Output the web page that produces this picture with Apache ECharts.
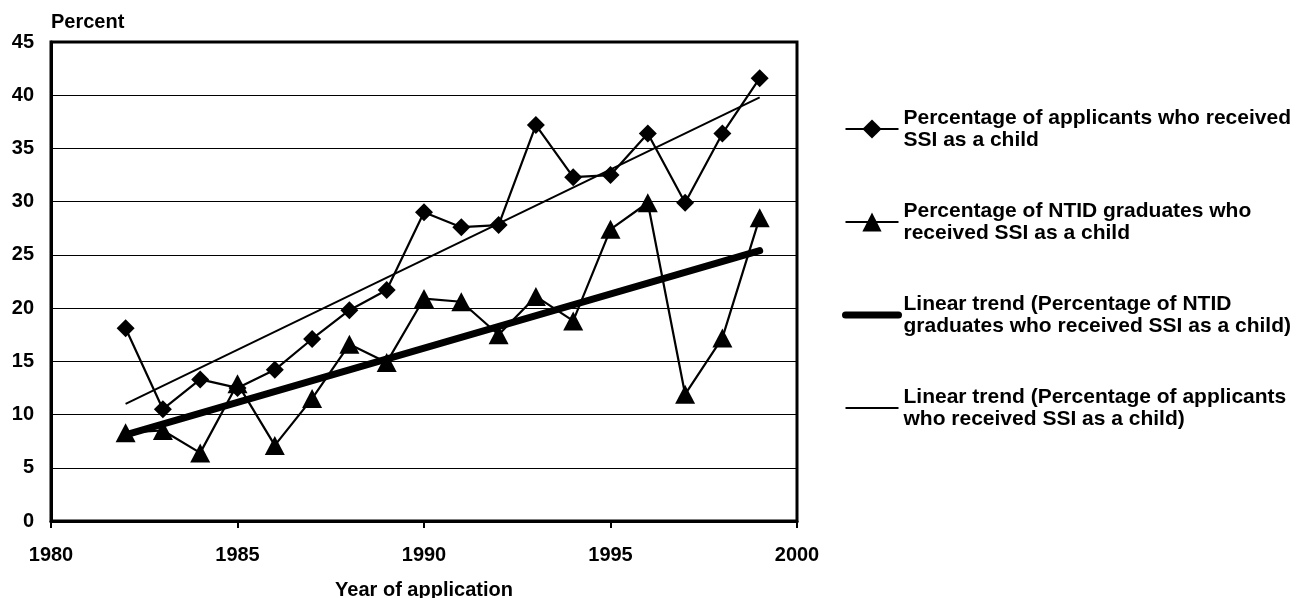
<!DOCTYPE html>
<html>
<head>
<meta charset="utf-8">
<script src="https://cdn.jsdelivr.net/npm/echarts@6/dist/echarts.min.js"></script>
<style>
    html, body { margin: 0; padding: 0; background: #fff; }
    #chart { width: 1301px; height: 598px; }
</style>
</head>
<body>
<div id="chart"></div>
<script>
// values
var years = [1982, 1983, 1984, 1985, 1986, 1987, 1988, 1989, 1990, 1991,
             1992, 1993, 1994, 1995, 1996, 1997, 1998, 1999];
var applicants = [18.1, 10.5, 13.3, 12.5, 14.2, 17.1, 19.8, 21.7, 29.0, 27.6,
                  27.8, 37.2, 32.3, 32.5, 36.4, 29.9, 36.4, 41.6];
var graduates = [8.3, 8.5, 6.4, 12.9, 7.1, 11.5, 16.6, 14.9, 20.9, 20.6,
                 17.5, 21.1, 18.8, 27.4, 29.9, 11.9, 17.2, 28.5];
// trend line end points (start year, end year)
var trendYears = [1982, 1999];
var applicantsTrend = [11.0, 39.8];
var graduatesTrend = [8.1, 25.4];

var yTicks = { min: 0, max: 45, step: 5 };
var xTicks = { min: 1980, max: 2000, step: 5 };

var names = [
    'Percentage of applicants who received SSI as a child',
    'Percentage of NTID graduates who received SSI as a child',
    'Linear trend (Percentage of NTID graduates who received SSI as a child)',
    'Linear trend (Percentage of applicants who received SSI as a child)'
];
var legendText = [
    'Percentage of applicants who received\nSSI as a child',
    'Percentage of NTID graduates who\nreceived SSI as a child',
    'Linear trend (Percentage of NTID\ngraduates who received SSI as a child)',
    'Linear trend (Percentage of applicants\nwho received SSI as a child)'
];

function pairs(xs, ys) {
    var out = [];
    for (var i = 0; i < xs.length; i++) out.push([xs[i], ys[i]]);
    return out;
}

var FONT = '"Liberation Sans", Arial, sans-serif';
var myChart = echarts.init(document.getElementById('chart'), null, { renderer: 'canvas' });

var option = {
    animation: false,
    backgroundColor: '#fff',
    title: {
        text: 'Percent',
        left: 51,
        top: 12,
        padding: 0,
        textStyle: { fontFamily: FONT, fontWeight: 'bold', fontSize: 20, color: '#000' }
    },
    grid: {
        left: 51, right: 504, top: 42, bottom: 77,
        outerBoundsMode: 'none',
        containLabel: false,
        show: true, borderColor: '#000', borderWidth: 3
    },
    legend: {
        orient: 'vertical',
        left: 842,
        top: 96,
        padding: 0,
        itemGap: 27,
        itemWidth: 53,
        itemHeight: 24,
        data: [
            { name: names[0] },
            { name: names[1] },
            { name: names[2], itemStyle: { opacity: 0 } },
            { name: names[3], itemStyle: { opacity: 0 } }
        ],
        formatter: function (name) {
            return legendText[names.indexOf(name)];
        },
        lineStyle: { width: 'inherit' },
        textStyle: {
            fontFamily: FONT, fontWeight: 'bold', fontSize: 21, color: '#000',
            lineHeight: 22, padding: [22, 0, 0, 0]
        }
    },
    xAxis: {
        type: 'value',
        min: xTicks.min, max: xTicks.max, interval: xTicks.step,
        name: 'Year of application',
        nameLocation: 'middle',
        nameGap: 59,
        nameTextStyle: { fontFamily: FONT, fontWeight: 'bold', fontSize: 20, color: '#000' },
        axisLine: { lineStyle: { color: '#000', width: 3 } },
        axisTick: { show: true, inside: false, length: 7, lineStyle: { color: '#000', width: 2 } },
        axisLabel: {
            margin: 24, fontFamily: FONT, fontWeight: 'bold', fontSize: 20, color: '#000',
            formatter: function (v) { return String(v); }
        },
        splitLine: { show: false }
    },
    yAxis: {
        type: 'value',
        min: yTicks.min, max: yTicks.max, interval: yTicks.step,
        axisLine: { show: true, lineStyle: { color: '#000', width: 3 } },
        axisTick: { show: false },
        axisLabel: { margin: 17, fontFamily: FONT, fontWeight: 'bold', fontSize: 20, color: '#000' },
        splitLine: { show: true, lineStyle: { color: '#000', width: 1 } }
    },
    series: [
        {
            name: names[0],
            type: 'line',
            data: pairs(years, applicants),
            symbol: 'diamond',
            symbolSize: 18,
            itemStyle: { color: '#000' },
            lineStyle: { color: '#000', width: 2.2 },
            z: 3
        },
        {
            name: names[1],
            type: 'line',
            data: pairs(years, graduates),
            symbol: 'triangle',
            symbolSize: [20, 19],
            itemStyle: { color: '#000' },
            lineStyle: { color: '#000', width: 2.2 },
            z: 3
        },
        {
            name: names[2],
            type: 'line',
            data: pairs(trendYears, graduatesTrend),
            symbol: 'none',
            lineStyle: { color: '#000', width: 7, cap: 'round' },
            itemStyle: { color: '#000' },
            z: 2
        },
        {
            name: names[3],
            type: 'line',
            data: pairs(trendYears, applicantsTrend),
            symbol: 'none',
            lineStyle: { color: '#000', width: 2 },
            itemStyle: { color: '#000' },
            z: 2
        }
    ]
};
myChart.setOption(option);
</script>
</body>
</html>
